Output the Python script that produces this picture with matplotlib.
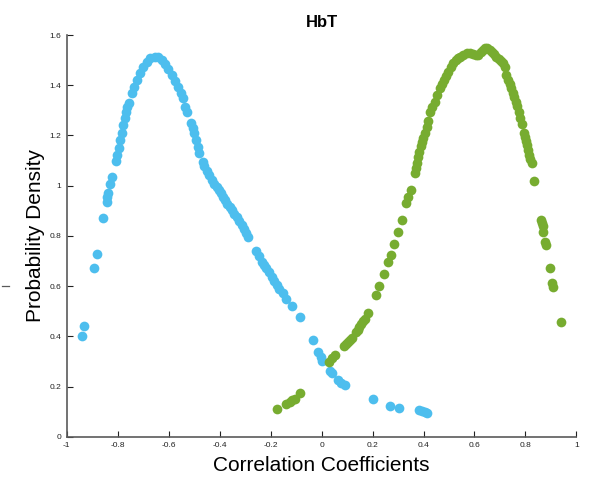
import matplotlib
matplotlib.use("Agg")
import matplotlib.pyplot as plt
from matplotlib.lines import Line2D

# ---------------------------------------------------------
# density estimates of correlation coefficients (HbT)
# ---------------------------------------------------------

neg_r = [
    -0.941, -0.932, -0.892, -0.880, -0.856, -0.843, -0.841, -0.837, -0.830, -0.824,
    -0.807, -0.802, -0.794, -0.791, -0.784, -0.778, -0.771, -0.767, -0.762, -0.755,
    -0.745, -0.736, -0.725, -0.713, -0.700, -0.686, -0.673, -0.654, -0.641, -0.627,
    -0.615, -0.602, -0.588, -0.575, -0.562, -0.552, -0.543, -0.536, -0.527, -0.514,
    -0.506, -0.501, -0.493, -0.486, -0.480, -0.467, -0.460, -0.451, -0.442, -0.431,
    -0.422, -0.412, -0.403, -0.395, -0.386, -0.377, -0.369, -0.360, -0.352, -0.342,
    -0.333, -0.324, -0.314, -0.305, -0.297, -0.288, -0.258, -0.246, -0.235, -0.226,
    -0.216, -0.207, -0.196, -0.187, -0.176, -0.165, -0.153, -0.140, -0.116, -0.085,
    -0.035, -0.015, -0.004, 0.003, 0.033, 0.040, 0.065, 0.076, 0.091, 0.202,
    0.268, 0.304, 0.382, 0.393, 0.405, 0.413,
]
neg_density = [
    0.402, 0.441, 0.671, 0.728, 0.870, 0.936, 0.956, 0.972, 1.007, 1.033,
    1.100, 1.122, 1.149, 1.182, 1.209, 1.242, 1.269, 1.295, 1.315, 1.328,
    1.368, 1.394, 1.421, 1.448, 1.474, 1.494, 1.508, 1.514, 1.512, 1.501,
    1.485, 1.464, 1.441, 1.418, 1.394, 1.368, 1.348, 1.315, 1.295, 1.249,
    1.229, 1.209, 1.182, 1.155, 1.129, 1.096, 1.078, 1.060, 1.043, 1.023,
    1.007, 0.994, 0.981, 0.969, 0.956, 0.943, 0.929, 0.916, 0.903, 0.889,
    0.876, 0.859, 0.843, 0.827, 0.812, 0.797, 0.740, 0.720, 0.697, 0.684,
    0.671, 0.656, 0.637, 0.622, 0.604, 0.588, 0.571, 0.547, 0.521, 0.476,
    0.385, 0.337, 0.316, 0.302, 0.263, 0.254, 0.226, 0.216, 0.206, 0.149,
    0.124, 0.116, 0.108, 0.104, 0.098, 0.094,
]

pos_r = [
    -0.174, -0.141, -0.124, -0.114, -0.105, -0.085, 0.030, 0.040, 0.052, 0.087,
    0.095, 0.104, 0.111, 0.118, 0.137, 0.142, 0.147, 0.154, 0.163, 0.170,
    0.183, 0.213, 0.226, 0.244, 0.261, 0.271, 0.284, 0.300, 0.314, 0.333,
    0.340, 0.349, 0.366, 0.370, 0.374, 0.379, 0.384, 0.389, 0.393, 0.398,
    0.405, 0.412, 0.417, 0.427, 0.435, 0.444, 0.454, 0.464, 0.472, 0.480,
    0.487, 0.496, 0.507, 0.516, 0.527, 0.535, 0.542, 0.554, 0.569, 0.582,
    0.595, 0.605, 0.614, 0.625, 0.633, 0.640, 0.650, 0.660, 0.668, 0.678,
    0.686, 0.695, 0.703, 0.712, 0.719, 0.725, 0.732, 0.738, 0.745, 0.750,
    0.756, 0.762, 0.768, 0.775, 0.778, 0.785, 0.793, 0.797, 0.801, 0.805,
    0.810, 0.815, 0.819, 0.824, 0.833, 0.860, 0.864, 0.867, 0.869, 0.876,
    0.880, 0.895, 0.905, 0.908, 0.938,
]
pos_density = [
    0.109, 0.129, 0.140, 0.146, 0.151, 0.173, 0.299, 0.312, 0.326, 0.361,
    0.371, 0.378, 0.387, 0.392, 0.418, 0.427, 0.436, 0.449, 0.462, 0.471,
    0.492, 0.565, 0.600, 0.648, 0.695, 0.724, 0.768, 0.817, 0.863, 0.932,
    0.955, 0.983, 1.052, 1.071, 1.090, 1.116, 1.134, 1.158, 1.174, 1.190,
    1.210, 1.234, 1.258, 1.294, 1.314, 1.335, 1.361, 1.388, 1.405, 1.421,
    1.437, 1.454, 1.473, 1.488, 1.501, 1.509, 1.514, 1.521, 1.529, 1.529,
    1.525, 1.521, 1.521, 1.531, 1.541, 1.547, 1.547, 1.541, 1.533, 1.525,
    1.514, 1.505, 1.497, 1.488, 1.473, 1.441, 1.421, 1.405, 1.388, 1.369,
    1.353, 1.335, 1.318, 1.294, 1.269, 1.246, 1.209, 1.194, 1.178, 1.162,
    1.142, 1.122, 1.106, 1.089, 1.020, 0.863, 0.851, 0.839, 0.817, 0.777,
    0.764, 0.673, 0.612, 0.598, 0.456,
]

x_ticks = [-1, -0.8, -0.6, -0.4, -0.2, 0, 0.2, 0.4, 0.6, 0.8, 1]
y_ticks = [0, 0.2, 0.4, 0.6, 0.8, 1, 1.2, 1.4, 1.6]

BLUE = "#4DBEEE"
GREEN = "#77AC30"
AXIS_GREY = "#5a5a5a"

plt.rcParams["font.family"] = ["Liberation Sans", "DejaVu Sans"]

fig = plt.figure(figsize=(5.9, 4.8), dpi=100)
ax = fig.add_axes([0.113, 0.090, 0.864, 0.837])

ax.plot(neg_r, neg_density, "o", color=BLUE, markersize=7, markeredgewidth=0)
ax.plot(pos_r, pos_density, "o", color=GREEN, markersize=7, markeredgewidth=0)

ax.set_xlim(-1, 1)
ax.set_ylim(0, 1.6)
ax.set_xticks(x_ticks)
ax.set_yticks(y_ticks)
ax.set_xticklabels([f"{t:g}" for t in x_ticks])
ax.set_yticklabels([f"{t:g}" for t in y_ticks])

# box off, inward ticks
for side in ["top", "right"]:
    ax.spines[side].set_visible(False)
for side in ["left", "bottom"]:
    ax.spines[side].set_color(AXIS_GREY)
    ax.spines[side].set_linewidth(1.2)

ax.tick_params(direction="in", length=4, width=0.8, color="#222222",
               labelsize=6, labelcolor="#222222", pad=4)

ax.set_title("HbT", fontsize=12, fontweight="bold", pad=6)
ax.set_xlabel("Correlation Coefficients", fontsize=15, labelpad=5)
ax.set_ylabel("Probability Density", fontsize=15, labelpad=3)

# stray tick mark on the left margin
fig.add_artist(Line2D([0.003, 0.015], [0.404, 0.404], color=AXIS_GREY,
                      linewidth=0.9, transform=fig.transFigure))

fig.savefig("out.png", dpi=100)
